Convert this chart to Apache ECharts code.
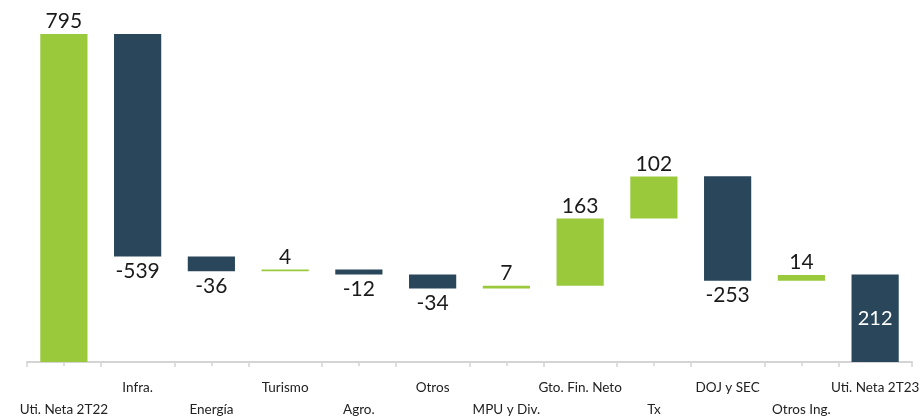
<!DOCTYPE html>
<html>
<head>
<meta charset="utf-8">
<script src="https://cdn.jsdelivr.net/npm/echarts@6/dist/echarts.min.js"></script>
<style>
  html, body { margin: 0; padding: 0; background: #fff; }
  #chart { width: 923px; height: 417px; }
</style>
</head>
<body>
<div id="chart"></div>
<script>
// waterfall data
const categories = ['Uti. Neta 2T22', 'Infra.', 'Energía', 'Turismo', 'Agro.', 'Otros',
  'MPU y Div.', 'Gto. Fin. Neto', 'Tx', 'DOJ y SEC', 'Otros Ing.', 'Uti. Neta 2T23']
const values = [795, -539, -36, 4, -12, -34, 7, 163, 102, -253, 14, 212]
const totalIdx = [0, 11]

const GREEN = '#9aca3c'
const NAVY = '#29465b'

let base = []
let delta = []
let running = 0
values.forEach((v, i) => {
  const last = i === values.length - 1
  if (totalIdx.indexOf(i) >= 0) {
    base.push(0)
    running = v
    delta.push({
      value: v,
      itemStyle: { color: last ? NAVY : GREEN },
      label: last
        ? { position: 'inside', color: '#fff', fontSize: 20 }
        : { position: 'top', distance: 2 }
    })
    return
  }
  if (v >= 0) {
    base.push(running)
    running += v
    delta.push({ value: v, itemStyle: { color: GREEN }, label: { position: 'top', distance: 2 } })
  } else {
    running += v
    base.push(running)
    delta.push({ value: -v, itemStyle: { color: NAVY }, label: { position: 'bottom' } })
  }
})

const chart = echarts.init(document.getElementById('chart'))
chart.setOption({
  animation: false,
  grid: { left: 27, right: 11, top: 32, bottom: 55, outerBoundsMode: 'none', containLabel: false },
  xAxis: [{
    type: 'category',
    data: categories,
    axisLine: { lineStyle: { color: '#d4d4d4', width: 2 } },
    axisTick: { show: true, length: 5, lineStyle: { color: '#d4d4d4', width: 1.5 } },
    axisLabel: {
      interval: 0,
      margin: 19,
      fontFamily: 'Lato',
      fontSize: 13.5,
      color: '#222',
      formatter: (v, i) => (i % 2 === 0 ? '{low|' + v + '}' : v),
      rich: {
        low: { fontFamily: 'Lato', fontSize: 13.5, color: '#222', padding: [22, 0, 0, 0] }
      }
    }
  }, {
    type: 'category',
    data: categories,
    position: 'bottom',
    axisLine: { show: false },
    axisTick: { show: true, alignWithLabel: true, length: 4, lineStyle: { color: '#d4d4d4', width: 1.5 } },
    axisLabel: { show: false }
  }],
  yAxis: {
    type: 'value',
    min: 0,
    max: 800,
    show: false
  },
  series: [{
    type: 'bar',
    stack: 'wf',
    data: base,
    itemStyle: { color: 'transparent' },
    silent: true,
    barWidth: '64%'
  }, {
    type: 'bar',
    stack: 'wf',
    data: delta,
    barWidth: '64%',
    label: {
      show: true,
      fontFamily: 'Lato',
      fontSize: 21,
      color: '#1a1a1a',
      distance: 4,
      formatter: p => values[p.dataIndex]
    }
  }]
})
</script>
</body>
</html>
